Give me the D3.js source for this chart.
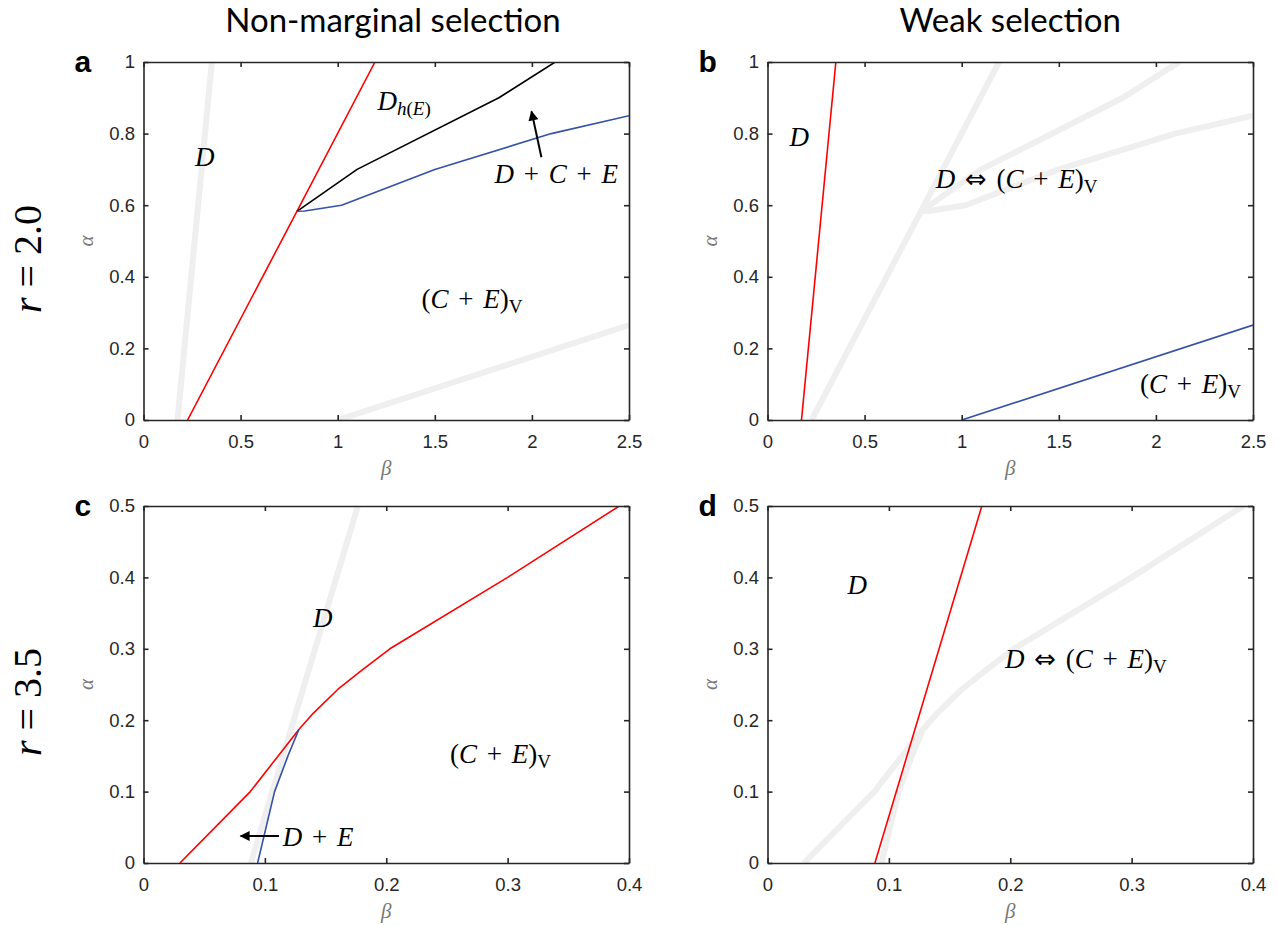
<!DOCTYPE html>
<html><head><meta charset="utf-8">
<script src="https://cdn.jsdelivr.net/npm/d3@7"></script>
<style>body{margin:0;background:#fff} svg{display:block}</style>
</head><body><svg id="c" width="1278" height="926"></svg>
<script>
// ---------- data ----------
const xTicksR2 = [0, 0.5, 1, 1.5, 2, 2.5];
const yTicksR2 = [0, 0.2, 0.4, 0.6, 0.8, 1];
const xTicksR35 = [0, 0.1, 0.2, 0.3, 0.4];
const yTicksR35 = [0, 0.1, 0.2, 0.3, 0.4, 0.5];

// r = 2.0, non-marginal selection boundaries [beta, alpha]
const nmRed2   = [[0.227,0],[0.79,0.583],[1.192,1]];
const nmBlack2 = [[0.79,0.583],[1.1,0.7],[1.83,0.9],[2.12,1.0]];
const nmBlue2  = [[0.79,0.583],[0.83,0.584],[1.02,0.6],[1.5,0.7],[2.1,0.8],[2.5,0.85]];
// r = 2.0, weak selection boundaries
const wRed2  = [[0.175,0],[0.352,1]];
const wBlue2 = [[1.0,0],[2.5,0.265]];
// r = 3.5, non-marginal selection
const nmRed35  = [[0.03,0],[0.088,0.1],[0.128,0.187],[0.14,0.21],[0.16,0.243],[0.18,0.27],[0.203,0.3],[0.3,0.4],[0.392,0.5]];
const nmBlue35 = [[0.094,0],[0.101,0.05],[0.108,0.1],[0.119,0.15],[0.128,0.187]];
// r = 3.5, weak selection
const wRed35 = [[0.0885,0],[0.1766,0.5]];

const colTitles = ["Non-marginal selection", "Weak selection"];
const rowLabels = [["r","2.0"], ["r","3.5"]];

// ---------- style ----------
const RED = "#ff0000", BLUE = "#3352a8", BLACK = "#000000", GRAY = "#efefef", AX = "#262626";
const MATH = "'Liberation Serif','DejaVu Serif',serif";

const svg = d3.select("#c");
const defs = svg.append("defs");
defs.append("marker").attr("id","ah").attr("viewBox","0 0 10 10").attr("refX",9).attr("refY",5)
  .attr("markerWidth",5.5).attr("markerHeight",5).attr("markerUnits","strokeWidth").attr("orient","auto")
  .append("path").attr("d","M0,0 L10,5 L0,10 z").attr("fill","#000");

// label part helper: i = italic, s = subscript, o = operator symbol
const L = (t,i,s,o)=>({t,i:!!i,s:!!s,o:!!o});
const lblD = [L("D",1)];
const lblCEV = [L("("),L("C",1),L(" + "),L("E",1),L(")"),L("V",0,1)];
const lblDCEV = [L("D",1),L(" "),L("⇔",0,0,1),L(" ("),L("C",1),L(" + "),L("E",1),L(")"),L("V",0,1)];

const panels = [
  {letter:"a", px:[143.5,629], py:[62,420], xd:[0,2.5], yd:[0,1], xt:xTicksR2, yt:yTicksR2,
   gray:[wRed2,wBlue2], lines:[[nmRed2,RED],[nmBlack2,BLACK],[nmBlue2,BLUE]],
   labels:[
     {at:[0.265,0.7095], parts:lblD},
     {at:[1.205,0.866], parts:[L("D",1),L("h",1,1),L("(",0,1),L("E",1,1),L(")",0,1)]},
     {at:[1.807,0.662], parts:[L("D",1),L(" + "),L("C",1),L(" + "),L("E",1)]},
     {at:[1.432,0.313], parts:lblCEV}],
   arrows:[[[2.049,0.734],[1.998,0.862]]]},
  {letter:"b", px:[767.5,1253], py:[62,420], xd:[0,2.5], yd:[0,1], xt:xTicksR2, yt:yTicksR2,
   gray:[nmRed2,nmBlack2,nmBlue2], lines:[[wRed2,RED],[wBlue2,BLUE]],
   labels:[
     {at:[0.113,0.765], parts:lblD},
     {at:[0.866,0.648], parts:lblDCEV},
     {at:[1.918,0.075], parts:lblCEV}],
   arrows:[]},
  {letter:"c", px:[143.5,629], py:[506,863], xd:[0,0.4], yd:[0,0.5], xt:xTicksR35, yt:yTicksR35,
   gray:[wRed35], lines:[[nmRed35,RED],[nmBlue35,BLUE]],
   labels:[
     {at:[0.1397,0.3305], parts:lblD},
     {at:[0.2525,0.14], parts:lblCEV},
     {at:[0.1147,0.0238], parts:[L("D",1),L(" + "),L("E",1)]}],
   arrows:[[[0.1116,0.0378],[0.080,0.0378]]]},
  {letter:"d", px:[767.5,1253], py:[506,863], xd:[0,0.4], yd:[0,0.5], xt:xTicksR35, yt:yTicksR35,
   gray:[nmRed35,nmBlue35], lines:[[wRed35,RED]],
   labels:[
     {at:[0.0659,0.3768], parts:lblD},
     {at:[0.1957,0.273], parts:lblDCEV}],
   arrows:[]}
];

const fmt = d => String(+d.toFixed(2));

panels.forEach((p, k) => {
  const x = d3.scaleLinear().domain(p.xd).range(p.px);
  const y = d3.scaleLinear().domain(p.yd).range([p.py[1], p.py[0]]);
  const g = svg.append("g");
  const cid = "clip" + k;
  defs.append("clipPath").attr("id", cid).append("rect")
    .attr("x", p.px[0]).attr("y", p.py[0]).attr("width", p.px[1]-p.px[0]).attr("height", p.py[1]-p.py[0]);
  const line = d3.line().x(d => x(d[0])).y(d => y(d[1]));
  const plot = g.append("g").attr("clip-path", `url(#${cid})`);
  p.gray.forEach(d => plot.append("path").attr("d", line(d)).attr("fill","none")
      .attr("stroke", GRAY).attr("stroke-width", 6).attr("stroke-linejoin","round"));
  p.lines.forEach(([d,c]) => plot.append("path").attr("d", line(d)).attr("fill","none")
      .attr("stroke", c).attr("stroke-width", 1.6).attr("stroke-linejoin","round"));

  // axes
  const ax = (sel) => { sel.selectAll(".domain").attr("stroke", AX).attr("stroke-width", 1.6);
    sel.selectAll(".tick line").attr("stroke", AX).attr("stroke-width", 1.6);
    sel.selectAll("text").attr("fill", AX).attr("font-family","'Liberation Sans',Arial,sans-serif").attr("font-size", 18.5); };
  g.append("g").attr("transform", `translate(0,${p.py[1]})`)
    .call(d3.axisBottom(x).tickValues(p.xt).tickFormat(fmt).tickSizeInner(-5).tickSizeOuter(0).tickPadding(15)).call(ax);
  g.append("g").attr("transform", `translate(0,${p.py[0]})`)
    .call(d3.axisTop(x).tickValues(p.xt).tickFormat("").tickSizeInner(-5).tickSizeOuter(0)).call(ax);
  g.append("g").attr("transform", `translate(${p.px[0]},0)`)
    .call(d3.axisLeft(y).tickValues(p.yt).tickFormat(fmt).tickSizeInner(-5).tickSizeOuter(0).tickPadding(8.5)).call(ax);
  g.append("g").attr("transform", `translate(${p.px[1]},0)`)
    .call(d3.axisRight(y).tickValues(p.yt).tickFormat("").tickSizeInner(-5).tickSizeOuter(0)).call(ax);

  // axis labels
  const cx = (p.px[0]+p.px[1])/2, cy = (p.py[0]+p.py[1])/2;
  g.append("text").attr("x", cx).attr("y", p.py[1]+55).attr("text-anchor","middle")
    .attr("font-family", MATH).attr("font-style","italic").attr("font-size", 21).attr("fill","#777").text("β");
  g.append("text").attr("transform", `translate(${p.px[0]-50.5},${cy}) rotate(-90)`).attr("text-anchor","middle")
    .attr("font-family", MATH).attr("font-style","italic").attr("font-size", 21).attr("fill","#777").text("α");

  // panel letter
  g.append("text").attr("x", p.px[0]-69).attr("y", p.py[0]+9.5)
    .attr("font-family","'Liberation Sans',Arial,sans-serif").attr("font-weight","bold").attr("font-size", 30).attr("fill","#000").text(p.letter);

  // region labels
  p.labels.forEach(lb => {
    const t = g.append("text").attr("x", x(lb.at[0])).attr("y", y(lb.at[1]))
      .attr("font-family", MATH).attr("font-size", 27).attr("word-spacing", 3).attr("fill","#000").attr("xml:space","preserve");
    let inSub = false;
    lb.parts.forEach(pt => {
      const ts = t.append("tspan").text(pt.t).attr("font-style", pt.i ? "italic" : "normal");
      if (pt.s) ts.attr("font-size", 19);
      if (pt.o) ts.attr("font-family","'DejaVu Sans',sans-serif").attr("font-size", 26);
      if (pt.s && !inSub) ts.attr("dy", 5);
      if (!pt.s && inSub) ts.attr("dy", -5);
      inSub = pt.s;
    });
  });
  // arrows
  p.arrows.forEach(a => {
    g.append("line").attr("x1", x(a[0][0])).attr("y1", y(a[0][1])).attr("x2", x(a[1][0])).attr("y2", y(a[1][1]))
      .attr("stroke","#000").attr("stroke-width", 2).attr("marker-end","url(#ah)");
  });
});

// column titles
[[393, colTitles[0]], [1010.25, colTitles[1]]].forEach(([cx, t]) => {
  svg.append("text").attr("x", cx).attr("y", 32).attr("text-anchor","middle")
    .attr("font-family","Lato,'Open Sans',sans-serif").attr("font-size", 33).attr("fill","#000").text(t);
});
// row labels
[[259, rowLabels[0]], [702, rowLabels[1]]].forEach(([cy, rl]) => {
  const t = svg.append("text").attr("transform", `translate(41,${cy}) rotate(-90)`).attr("text-anchor","middle")
    .attr("font-family", MATH).attr("font-size", 40).attr("fill","#000").attr("xml:space","preserve");
  t.append("tspan").attr("font-style","italic").text(rl[0]);
  t.append("tspan").text(" = " + rl[1]);
});
</script></body></html>
